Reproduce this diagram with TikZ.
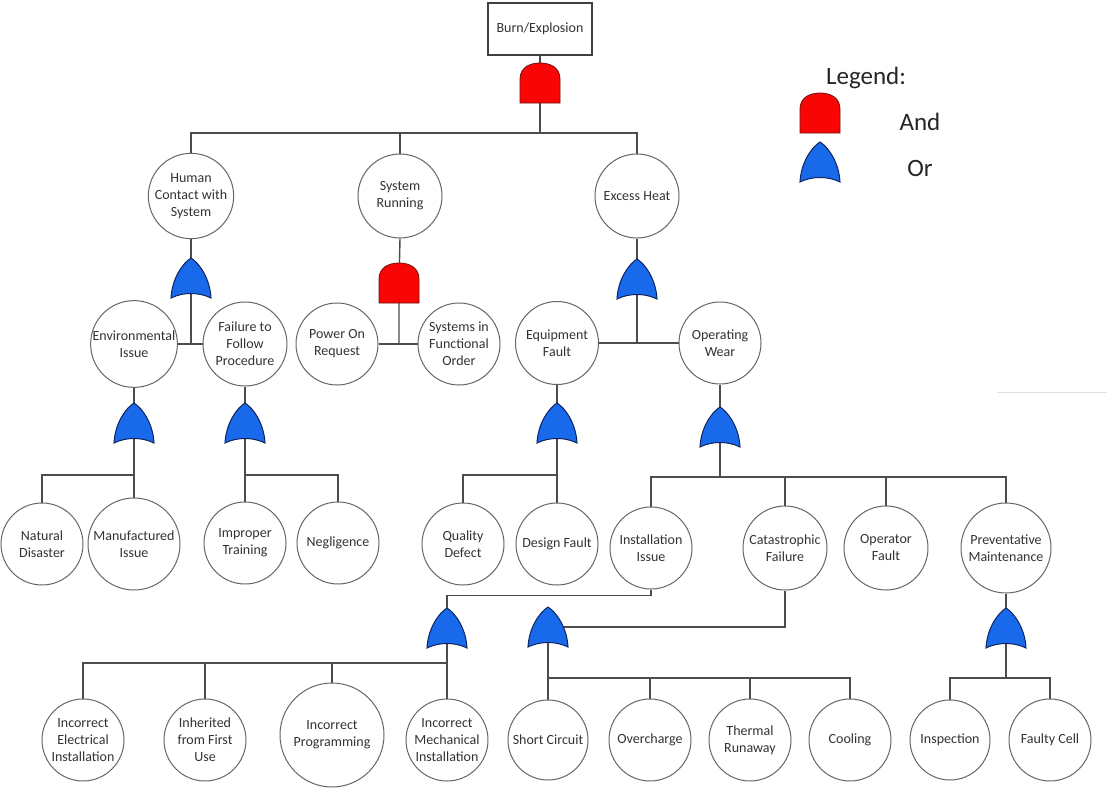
\documentclass[tikz,border=0pt]{standalone}
\usepackage{fontspec}
\setmainfont{Carlito}
\usetikzlibrary{backgrounds,calc}
\definecolor{andred}{RGB}{250,5,5}
\definecolor{andline}{RGB}{110,20,20}
\definecolor{orblue}{RGB}{25,105,235}
\definecolor{orline}{RGB}{15,35,95}
\newcommand\evfont{\fontsize{14}{17}\selectfont}
\tikzset{
  ev/.style={circle, draw=black!60, line width=1pt, fill=white, inner sep=0pt,
    align=center, font=\evfont, text=black!80, minimum size=#1},
  ev/.default=82,
  topbox/.style={rectangle, draw=black!75, line width=1.2pt, fill=white,
    minimum width=104, minimum height=52, font=\evfont, text=black!80},
  conn/.style={draw=black!70, line width=1.4pt},
  legtext/.style={font=\fontsize{25}{30}\selectfont, text=black!85},
  orgate/.pic={
    \path[fill=orblue, draw=orline, line width=1pt]
      (-20,20) .. controls (-19,0) and (-8,-15) .. (0,-20)
      .. controls (8,-15) and (19,0) .. (20,20)
      .. controls (8,14) and (-8,14) .. cycle;
    \coordinate (-c) at (0,0);
  },
  andgate/.pic={
    \path[fill=andred, draw=andline, line width=0.8pt]
      (-20,20) -- (-20,-4) .. controls (-20,-15) and (-11,-20) .. (0,-20)
      .. controls (11,-20) and (20,-15) .. (20,-4) -- (20,20) -- cycle;
    \coordinate (-c) at (0,0);
  }
}
\begin{document}
\begin{tikzpicture}[x=1pt,y=-1pt]
\useasboundingbox (0,0) rectangle (1109,792);
% nodes
\node[topbox] (top) at (540,29) {Burn/Explosion};
\pic (g0) at (540,83) {andgate};
\node[ev=84] (hc) at (191,196) {Human\\Contact with\\System};
\node[ev=84] (sr) at (400,196) {System\\Running};
\node[ev=84] (eh) at (637,196) {Excess Heat};
\pic (g1) at (191,278) {orgate};
\node[ev=84] (env) at (134,344) {Environmental\\Issue};
\node[ev=84] (ftf) at (245,344) {Failure to\\Follow\\Procedure};
\pic (g4) at (399,283) {andgate};
\node[ev] (po) at (337,344) {Power On\\Request};
\node[ev] (sf) at (459,344) {Systems in\\Functional\\Order};
\pic (g5) at (637,279) {orgate};
\node[ev=83] (ef) at (557,343) {Equipment\\Fault};
\node[ev] (ow) at (720,343) {Operating\\Wear};
\pic (g2) at (134,423) {orgate};
\pic (g3) at (245,423) {orgate};
\node[ev] (nd) at (42,544) {Natural\\Disaster};
\node[ev=92] (mi) at (134,544) {Manufactured\\Issue};
\node[ev] (imt) at (245,543) {Improper\\Training};
\node[ev] (ng) at (338,543) {Negligence};
\pic (g6) at (557,423) {orgate};
\node[ev] (qd) at (463,544) {Quality\\Defect};
\node[ev] (df) at (557,544) {Design Fault};
\pic (g7) at (720,427) {orgate};
\node[ev] (ii) at (651,548) {Installation\\Issue};
\node[ev=84] (cf) at (785,548) {Catastrophic\\Failure};
\node[ev=84] (opf) at (886,548) {Operator\\Fault};
\node[ev=90] (pm) at (1006,548) {Preventative\\Maintenance};
\pic (g8) at (447,628) {orgate};
\pic (g9) at (548,627) {orgate};
\pic (g10) at (1006,628) {orgate};
\node[ev] (iei) at (83,740) {Incorrect\\Electrical\\Installation};
\node[ev] (inh) at (205,740) {Inherited\\from First\\Use};
\node[ev=104] (ip) at (332,735) {Incorrect\\Programming};
\node[ev] (im) at (447,740) {Incorrect\\Mechanical\\Installation};
\node[ev=80] (sc) at (548,740) {Short Circuit};
\node[ev] (oc) at (650,740) {Overcharge};
\node[ev] (tr) at (750,740) {Thermal\\Runaway};
\node[ev] (cool) at (850,740) {Cooling};
\node[ev=80] (insp) at (950,740) {Inspection};
\node[ev] (fc) at (1050,740) {Faulty Cell};
% legend
\node[legtext] (legend) at (866,78) {Legend:};
\pic (lg1) at (820,113) {andgate};
\node[legtext] (andtxt) at (920,122) {And};
\pic (lg2) at (820,162) {orgate};
\node[legtext] (ortxt) at (920,168) {Or};
% connectors
\begin{scope}[on background layer]
\fill[white] (0,0) rectangle (1109,792);
\draw[black!12, line width=0.8pt] (997,392) -- (1107,392);
\coordinate (b0) at (540,133);
\coordinate (b2) at (134,475);
\coordinate (b3) at (245,475);
\coordinate (b6) at (557,475);
\coordinate (b7) at (720,477);
\coordinate (b8) at (447,663);
\coordinate (b9) at (548,678);
\coordinate (b10) at (1006,678);
\draw[conn] (top) -- (g0-c) -- (b0);
\draw[conn] (hc.north) |- (b0) -| (eh.north);
\draw[conn] (sr.north) -- (sr.north |- b0);
\draw[conn] (hc.south) -- (g1-c) -- (g1-c |- env.east);
\draw[conn] (env.east) -- (ftf.west);
\draw[conn] (sr.south) -- (g4-c) -- (g4-c |- po.east);
\draw[conn] (po.east) -- (sf.west);
\draw[conn] (eh.south) -- (g5-c) -- (g5-c |- ef.east);
\draw[conn] (ef.east) -- (ow.west);
\draw[conn] (env.south) -- (g2-c) -- (mi.north);
\draw[conn] (nd.north) |- (b2);
\draw[conn] (ftf.south) -- (g3-c) -- (imt.north);
\draw[conn] (ng.north) |- (b3);
\draw[conn] (ef.south) -- (g6-c) -- (df.north);
\draw[conn] (qd.north) |- (b6);
\draw[conn] (ow.south) -- (g7-c) -- (b7);
\draw[conn] (ii.north) |- (b7) -| (pm.north);
\draw[conn] (cf.north) -- (cf.north |- b7);
\draw[conn] (opf.north) -- (opf.north |- b7);
\draw[conn] (ii.south) -- ++(0,6) -| (g8-c);
\draw[conn] (g8-c) -- (im.north);
\draw[conn] (iei.north) |- (b8);
\draw[conn] (inh.north) -- (inh.north |- b8);
\draw[conn] (ip.north) -- (ip.north |- b8);
\draw[conn] (cf.south) |- (g9-c);
\draw[conn] (g9-c) -- (sc.north);
\draw[conn] (cool.north) |- (b9);
\draw[conn] (oc.north) -- (oc.north |- b9);
\draw[conn] (tr.north) -- (tr.north |- b9);
\draw[conn] (pm.south) -- (g10-c) -- (b10);
\draw[conn] (insp.north) |- (b10) -| (fc.north);
\end{scope}
\end{tikzpicture}
\end{document}
